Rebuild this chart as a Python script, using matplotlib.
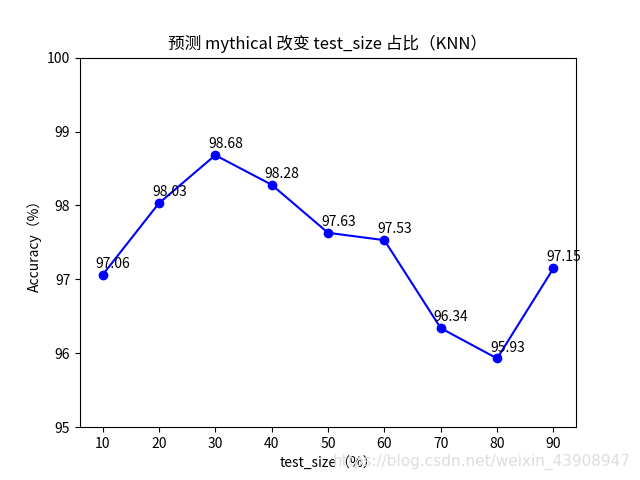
import matplotlib
matplotlib.use('Agg')
import matplotlib.pyplot as plt

plt.rcParams['font.family'] = ['Noto Sans CJK SC', 'DejaVu Sans']
plt.rcParams['axes.unicode_minus'] = False

test_sizes = [10, 20, 30, 40, 50, 60, 70, 80, 90]
accuracy = [97.06, 98.03, 98.68, 98.28, 97.63, 97.53, 96.34, 95.93, 97.15]

fig, ax = plt.subplots(figsize=(6.4, 4.8), dpi=100)
ax.plot(test_sizes, accuracy, color='blue', marker='o')
for x, y in zip(test_sizes, accuracy):
    ax.annotate('%.2f' % y, (x, y), xytext=(-5, 5), textcoords='offset points')

ax.set_ylim(95, 100)
ax.set_xticks(test_sizes)
ax.set_title('预测 mythical 改变 test_size 占比（KNN）')
ax.set_xlabel('test_size（%）')
ax.set_ylabel('Accuracy（%）')

fig.text(0.985, 0.037, 'https://blog.csdn.net/weixin_43908947', ha='right', va='center',
         color='#dddddd', fontsize=11, family='DejaVu Sans')

fig.savefig('out.png')
